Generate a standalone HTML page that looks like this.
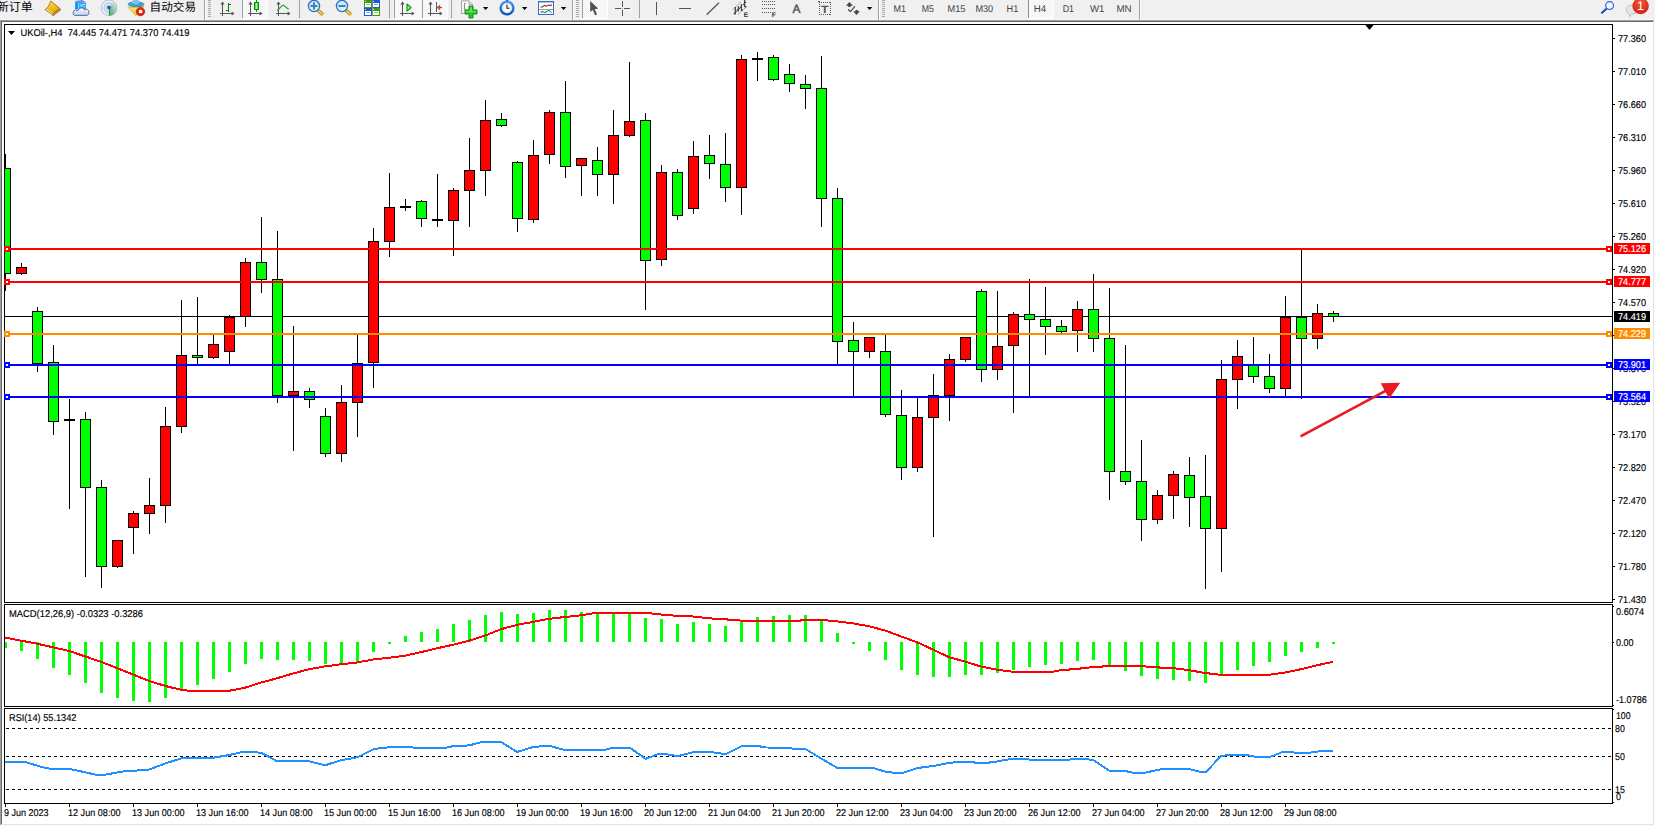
<!DOCTYPE html>
<html><head><meta charset="utf-8"><title>UKOil H4</title>
<style>
html,body{margin:0;padding:0;background:#fff;overflow:hidden}
svg{display:block;position:absolute;left:0;top:0}
svg text{font-family:"Liberation Sans","Noto Sans CJK SC",sans-serif;white-space:pre;text-rendering:geometricPrecision}
</style></head>
<body>
<svg width="1655" height="826" viewBox="0 0 1655 826" shape-rendering="crispEdges">
<rect x="0" y="0" width="1655" height="826" fill="#fff"/>
<rect x="0" y="0" width="1655" height="19" fill="#f0f0f0"/>
<rect x="0" y="19" width="1655" height="1" fill="#f6f6f6"/>
<rect x="0" y="20" width="1654" height="1" fill="#a0a0a0"/>
<rect x="1" y="21" width="1653" height="1" fill="#696969"/>
<rect x="0" y="21" width="1" height="805" fill="#a0a0a0"/>
<rect x="1" y="22" width="1" height="803" fill="#696969"/>
<rect x="1653" y="21" width="1" height="804" fill="#e3e3e3"/>
<rect x="1654" y="20" width="1" height="806" fill="#fafafa"/>
<rect x="1" y="824" width="1653" height="1" fill="#e3e3e3"/>
<rect x="0" y="825" width="1655" height="1" fill="#fafafa"/>
<rect x="4" y="24" width="1609" height="1" fill="#000"/>
<rect x="4" y="24" width="1" height="579" fill="#000"/>
<rect x="4" y="602" width="1609" height="1" fill="#000"/>
<rect x="1612" y="24" width="1" height="780" fill="#000"/>
<rect x="4" y="604" width="1609" height="1" fill="#000"/>
<rect x="4" y="604" width="1" height="103" fill="#000"/>
<rect x="4" y="706" width="1609" height="1" fill="#000"/>
<rect x="4" y="708" width="1609" height="1" fill="#000"/>
<rect x="4" y="708" width="1" height="96" fill="#000"/>
<rect x="4" y="803" width="1609" height="1" fill="#000"/>
<rect x="4" y="603" width="1" height="1" fill="#fff"/>
<rect x="1612" y="603" width="1" height="1" fill="#fff"/>
<rect x="4" y="707" width="1" height="1" fill="#fff"/>
<rect x="1612" y="707" width="1" height="1" fill="#fff"/>
<polygon points="1364.5,24 1374.5,24 1369.5,30" fill="#000" shape-rendering="geometricPrecision"/>
<rect x="1613" y="38" width="2" height="1" fill="#000"/>
<text x="1618" y="42" font-size="9.9" fill="#000" stroke="#000" stroke-width="0.15" textLength="28" lengthAdjust="spacingAndGlyphs">77.360</text>
<rect x="1613" y="71" width="2" height="1" fill="#000"/>
<text x="1618" y="75" font-size="9.9" fill="#000" stroke="#000" stroke-width="0.15" textLength="28" lengthAdjust="spacingAndGlyphs">77.010</text>
<rect x="1613" y="104" width="2" height="1" fill="#000"/>
<text x="1618" y="108" font-size="9.9" fill="#000" stroke="#000" stroke-width="0.15" textLength="28" lengthAdjust="spacingAndGlyphs">76.660</text>
<rect x="1613" y="137" width="2" height="1" fill="#000"/>
<text x="1618" y="141" font-size="9.9" fill="#000" stroke="#000" stroke-width="0.15" textLength="28" lengthAdjust="spacingAndGlyphs">76.310</text>
<rect x="1613" y="170" width="2" height="1" fill="#000"/>
<text x="1618" y="174" font-size="9.9" fill="#000" stroke="#000" stroke-width="0.15" textLength="28" lengthAdjust="spacingAndGlyphs">75.960</text>
<rect x="1613" y="203" width="2" height="1" fill="#000"/>
<text x="1618" y="207" font-size="9.9" fill="#000" stroke="#000" stroke-width="0.15" textLength="28" lengthAdjust="spacingAndGlyphs">75.610</text>
<rect x="1613" y="236" width="2" height="1" fill="#000"/>
<text x="1618" y="240" font-size="9.9" fill="#000" stroke="#000" stroke-width="0.15" textLength="28" lengthAdjust="spacingAndGlyphs">75.260</text>
<rect x="1613" y="269" width="2" height="1" fill="#000"/>
<text x="1618" y="273" font-size="9.9" fill="#000" stroke="#000" stroke-width="0.15" textLength="28" lengthAdjust="spacingAndGlyphs">74.920</text>
<rect x="1613" y="302" width="2" height="1" fill="#000"/>
<text x="1618" y="306" font-size="9.9" fill="#000" stroke="#000" stroke-width="0.15" textLength="28" lengthAdjust="spacingAndGlyphs">74.570</text>
<rect x="1613" y="335" width="2" height="1" fill="#000"/>
<text x="1618" y="339" font-size="9.9" fill="#000" stroke="#000" stroke-width="0.15" textLength="28" lengthAdjust="spacingAndGlyphs">74.220</text>
<rect x="1613" y="368" width="2" height="1" fill="#000"/>
<text x="1618" y="372" font-size="9.9" fill="#000" stroke="#000" stroke-width="0.15" textLength="28" lengthAdjust="spacingAndGlyphs">73.870</text>
<rect x="1613" y="401" width="2" height="1" fill="#000"/>
<text x="1618" y="405" font-size="9.9" fill="#000" stroke="#000" stroke-width="0.15" textLength="28" lengthAdjust="spacingAndGlyphs">73.520</text>
<rect x="1613" y="434" width="2" height="1" fill="#000"/>
<text x="1618" y="438" font-size="9.9" fill="#000" stroke="#000" stroke-width="0.15" textLength="28" lengthAdjust="spacingAndGlyphs">73.170</text>
<rect x="1613" y="467" width="2" height="1" fill="#000"/>
<text x="1618" y="471" font-size="9.9" fill="#000" stroke="#000" stroke-width="0.15" textLength="28" lengthAdjust="spacingAndGlyphs">72.820</text>
<rect x="1613" y="500" width="2" height="1" fill="#000"/>
<text x="1618" y="504" font-size="9.9" fill="#000" stroke="#000" stroke-width="0.15" textLength="28" lengthAdjust="spacingAndGlyphs">72.470</text>
<rect x="1613" y="533" width="2" height="1" fill="#000"/>
<text x="1618" y="537" font-size="9.9" fill="#000" stroke="#000" stroke-width="0.15" textLength="28" lengthAdjust="spacingAndGlyphs">72.120</text>
<rect x="1613" y="566" width="2" height="1" fill="#000"/>
<text x="1618" y="570" font-size="9.9" fill="#000" stroke="#000" stroke-width="0.15" textLength="28" lengthAdjust="spacingAndGlyphs">71.780</text>
<rect x="1613" y="599" width="2" height="1" fill="#000"/>
<text x="1618" y="603" font-size="9.9" fill="#000" stroke="#000" stroke-width="0.15" textLength="28" lengthAdjust="spacingAndGlyphs">71.430</text>
<rect x="5" y="316" width="1607" height="1" fill="#000"/>
<rect x="5" y="154" width="1" height="137" fill="#000"/>
<rect x="0" y="168" width="11" height="106" fill="#000"/>
<rect x="1" y="169" width="9" height="104" fill="#00ff00"/>
<rect x="21" y="263" width="1" height="12" fill="#000"/>
<rect x="16" y="267" width="11" height="7" fill="#000"/>
<rect x="17" y="268" width="9" height="5" fill="#ff0000"/>
<rect x="37" y="307" width="1" height="65" fill="#000"/>
<rect x="32" y="311" width="11" height="53" fill="#000"/>
<rect x="33" y="312" width="9" height="51" fill="#00ff00"/>
<rect x="53" y="345" width="1" height="90" fill="#000"/>
<rect x="48" y="362" width="11" height="60" fill="#000"/>
<rect x="49" y="363" width="9" height="58" fill="#00ff00"/>
<rect x="69" y="399" width="1" height="110" fill="#000"/>
<rect x="64" y="419" width="11" height="2" fill="#000"/>
<rect x="85" y="412" width="1" height="165" fill="#000"/>
<rect x="80" y="419" width="11" height="69" fill="#000"/>
<rect x="81" y="420" width="9" height="67" fill="#00ff00"/>
<rect x="101" y="480" width="1" height="108" fill="#000"/>
<rect x="96" y="487" width="11" height="80" fill="#000"/>
<rect x="97" y="488" width="9" height="78" fill="#00ff00"/>
<rect x="117" y="540" width="1" height="28" fill="#000"/>
<rect x="112" y="540" width="11" height="27" fill="#000"/>
<rect x="113" y="541" width="9" height="25" fill="#ff0000"/>
<rect x="133" y="511" width="1" height="43" fill="#000"/>
<rect x="128" y="513" width="11" height="15" fill="#000"/>
<rect x="129" y="514" width="9" height="13" fill="#ff0000"/>
<rect x="149" y="478" width="1" height="56" fill="#000"/>
<rect x="144" y="505" width="11" height="9" fill="#000"/>
<rect x="145" y="506" width="9" height="7" fill="#ff0000"/>
<rect x="165" y="407" width="1" height="116" fill="#000"/>
<rect x="160" y="426" width="11" height="80" fill="#000"/>
<rect x="161" y="427" width="9" height="78" fill="#ff0000"/>
<rect x="181" y="300" width="1" height="133" fill="#000"/>
<rect x="176" y="355" width="11" height="72" fill="#000"/>
<rect x="177" y="356" width="9" height="70" fill="#ff0000"/>
<rect x="197" y="297" width="1" height="67" fill="#000"/>
<rect x="192" y="355" width="11" height="3" fill="#000"/>
<rect x="193" y="356" width="9" height="1" fill="#00ff00"/>
<rect x="213" y="335" width="1" height="24" fill="#000"/>
<rect x="208" y="344" width="11" height="14" fill="#000"/>
<rect x="209" y="345" width="9" height="12" fill="#ff0000"/>
<rect x="229" y="315" width="1" height="49" fill="#000"/>
<rect x="224" y="317" width="11" height="35" fill="#000"/>
<rect x="225" y="318" width="9" height="33" fill="#ff0000"/>
<rect x="245" y="258" width="1" height="69" fill="#000"/>
<rect x="240" y="262" width="11" height="55" fill="#000"/>
<rect x="241" y="263" width="9" height="53" fill="#ff0000"/>
<rect x="261" y="217" width="1" height="76" fill="#000"/>
<rect x="256" y="262" width="11" height="18" fill="#000"/>
<rect x="257" y="263" width="9" height="16" fill="#00ff00"/>
<rect x="277" y="231" width="1" height="172" fill="#000"/>
<rect x="272" y="279" width="11" height="117" fill="#000"/>
<rect x="273" y="280" width="9" height="115" fill="#00ff00"/>
<rect x="293" y="326" width="1" height="125" fill="#000"/>
<rect x="288" y="391" width="11" height="5" fill="#000"/>
<rect x="289" y="392" width="9" height="3" fill="#ff0000"/>
<rect x="309" y="388" width="1" height="20" fill="#000"/>
<rect x="304" y="391" width="11" height="9" fill="#000"/>
<rect x="305" y="392" width="9" height="7" fill="#00ff00"/>
<rect x="325" y="408" width="1" height="49" fill="#000"/>
<rect x="320" y="416" width="11" height="38" fill="#000"/>
<rect x="321" y="417" width="9" height="36" fill="#00ff00"/>
<rect x="341" y="385" width="1" height="77" fill="#000"/>
<rect x="336" y="402" width="11" height="52" fill="#000"/>
<rect x="337" y="403" width="9" height="50" fill="#ff0000"/>
<rect x="357" y="335" width="1" height="102" fill="#000"/>
<rect x="352" y="363" width="11" height="40" fill="#000"/>
<rect x="353" y="364" width="9" height="38" fill="#ff0000"/>
<rect x="373" y="228" width="1" height="160" fill="#000"/>
<rect x="368" y="241" width="11" height="122" fill="#000"/>
<rect x="369" y="242" width="9" height="120" fill="#ff0000"/>
<rect x="389" y="173" width="1" height="84" fill="#000"/>
<rect x="384" y="207" width="11" height="35" fill="#000"/>
<rect x="385" y="208" width="9" height="33" fill="#ff0000"/>
<rect x="405" y="199" width="1" height="12" fill="#000"/>
<rect x="400" y="206" width="11" height="2" fill="#000"/>
<rect x="421" y="200" width="1" height="27" fill="#000"/>
<rect x="416" y="201" width="11" height="18" fill="#000"/>
<rect x="417" y="202" width="9" height="16" fill="#00ff00"/>
<rect x="437" y="174" width="1" height="53" fill="#000"/>
<rect x="432" y="219" width="11" height="2" fill="#000"/>
<rect x="453" y="188" width="1" height="68" fill="#000"/>
<rect x="448" y="190" width="11" height="31" fill="#000"/>
<rect x="449" y="191" width="9" height="29" fill="#ff0000"/>
<rect x="469" y="138" width="1" height="89" fill="#000"/>
<rect x="464" y="170" width="11" height="21" fill="#000"/>
<rect x="465" y="171" width="9" height="19" fill="#ff0000"/>
<rect x="485" y="100" width="1" height="96" fill="#000"/>
<rect x="480" y="120" width="11" height="51" fill="#000"/>
<rect x="481" y="121" width="9" height="49" fill="#ff0000"/>
<rect x="501" y="113" width="1" height="14" fill="#000"/>
<rect x="496" y="119" width="11" height="7" fill="#000"/>
<rect x="497" y="120" width="9" height="5" fill="#00ff00"/>
<rect x="517" y="161" width="1" height="71" fill="#000"/>
<rect x="512" y="162" width="11" height="57" fill="#000"/>
<rect x="513" y="163" width="9" height="55" fill="#00ff00"/>
<rect x="533" y="140" width="1" height="83" fill="#000"/>
<rect x="528" y="155" width="11" height="65" fill="#000"/>
<rect x="529" y="156" width="9" height="63" fill="#ff0000"/>
<rect x="549" y="110" width="1" height="54" fill="#000"/>
<rect x="544" y="112" width="11" height="43" fill="#000"/>
<rect x="545" y="113" width="9" height="41" fill="#ff0000"/>
<rect x="565" y="81" width="1" height="97" fill="#000"/>
<rect x="560" y="112" width="11" height="55" fill="#000"/>
<rect x="561" y="113" width="9" height="53" fill="#00ff00"/>
<rect x="581" y="158" width="1" height="38" fill="#000"/>
<rect x="576" y="158" width="11" height="8" fill="#000"/>
<rect x="577" y="159" width="9" height="6" fill="#ff0000"/>
<rect x="597" y="147" width="1" height="49" fill="#000"/>
<rect x="592" y="160" width="11" height="15" fill="#000"/>
<rect x="593" y="161" width="9" height="13" fill="#00ff00"/>
<rect x="613" y="110" width="1" height="94" fill="#000"/>
<rect x="608" y="135" width="11" height="40" fill="#000"/>
<rect x="609" y="136" width="9" height="38" fill="#ff0000"/>
<rect x="629" y="62" width="1" height="75" fill="#000"/>
<rect x="624" y="121" width="11" height="15" fill="#000"/>
<rect x="625" y="122" width="9" height="13" fill="#ff0000"/>
<rect x="645" y="113" width="1" height="197" fill="#000"/>
<rect x="640" y="120" width="11" height="141" fill="#000"/>
<rect x="641" y="121" width="9" height="139" fill="#00ff00"/>
<rect x="661" y="165" width="1" height="101" fill="#000"/>
<rect x="656" y="172" width="11" height="88" fill="#000"/>
<rect x="657" y="173" width="9" height="86" fill="#ff0000"/>
<rect x="677" y="169" width="1" height="51" fill="#000"/>
<rect x="672" y="172" width="11" height="44" fill="#000"/>
<rect x="673" y="173" width="9" height="42" fill="#00ff00"/>
<rect x="693" y="141" width="1" height="73" fill="#000"/>
<rect x="688" y="156" width="11" height="53" fill="#000"/>
<rect x="689" y="157" width="9" height="51" fill="#ff0000"/>
<rect x="709" y="135" width="1" height="44" fill="#000"/>
<rect x="704" y="155" width="11" height="9" fill="#000"/>
<rect x="705" y="156" width="9" height="7" fill="#00ff00"/>
<rect x="725" y="133" width="1" height="69" fill="#000"/>
<rect x="720" y="164" width="11" height="24" fill="#000"/>
<rect x="721" y="165" width="9" height="22" fill="#00ff00"/>
<rect x="741" y="55" width="1" height="160" fill="#000"/>
<rect x="736" y="59" width="11" height="129" fill="#000"/>
<rect x="737" y="60" width="9" height="127" fill="#ff0000"/>
<rect x="757" y="52" width="1" height="29" fill="#000"/>
<rect x="752" y="58" width="11" height="2" fill="#000"/>
<rect x="773" y="55" width="1" height="26" fill="#000"/>
<rect x="768" y="57" width="11" height="23" fill="#000"/>
<rect x="769" y="58" width="9" height="21" fill="#00ff00"/>
<rect x="789" y="64" width="1" height="28" fill="#000"/>
<rect x="784" y="74" width="11" height="10" fill="#000"/>
<rect x="785" y="75" width="9" height="8" fill="#00ff00"/>
<rect x="805" y="75" width="1" height="34" fill="#000"/>
<rect x="800" y="84" width="11" height="5" fill="#000"/>
<rect x="801" y="85" width="9" height="3" fill="#00ff00"/>
<rect x="821" y="56" width="1" height="171" fill="#000"/>
<rect x="816" y="88" width="11" height="111" fill="#000"/>
<rect x="817" y="89" width="9" height="109" fill="#00ff00"/>
<rect x="837" y="188" width="1" height="177" fill="#000"/>
<rect x="832" y="198" width="11" height="144" fill="#000"/>
<rect x="833" y="199" width="9" height="142" fill="#00ff00"/>
<rect x="853" y="322" width="1" height="75" fill="#000"/>
<rect x="848" y="340" width="11" height="12" fill="#000"/>
<rect x="849" y="341" width="9" height="10" fill="#00ff00"/>
<rect x="869" y="337" width="1" height="21" fill="#000"/>
<rect x="864" y="337" width="11" height="15" fill="#000"/>
<rect x="865" y="338" width="9" height="13" fill="#ff0000"/>
<rect x="885" y="335" width="1" height="82" fill="#000"/>
<rect x="880" y="351" width="11" height="64" fill="#000"/>
<rect x="881" y="352" width="9" height="62" fill="#00ff00"/>
<rect x="901" y="390" width="1" height="90" fill="#000"/>
<rect x="896" y="415" width="11" height="53" fill="#000"/>
<rect x="897" y="416" width="9" height="51" fill="#00ff00"/>
<rect x="917" y="398" width="1" height="74" fill="#000"/>
<rect x="912" y="417" width="11" height="51" fill="#000"/>
<rect x="913" y="418" width="9" height="49" fill="#ff0000"/>
<rect x="933" y="374" width="1" height="163" fill="#000"/>
<rect x="928" y="395" width="11" height="23" fill="#000"/>
<rect x="929" y="396" width="9" height="21" fill="#ff0000"/>
<rect x="949" y="354" width="1" height="67" fill="#000"/>
<rect x="944" y="359" width="11" height="37" fill="#000"/>
<rect x="945" y="360" width="9" height="35" fill="#ff0000"/>
<rect x="965" y="337" width="1" height="25" fill="#000"/>
<rect x="960" y="337" width="11" height="23" fill="#000"/>
<rect x="961" y="338" width="9" height="21" fill="#ff0000"/>
<rect x="981" y="289" width="1" height="93" fill="#000"/>
<rect x="976" y="291" width="11" height="79" fill="#000"/>
<rect x="977" y="292" width="9" height="77" fill="#00ff00"/>
<rect x="997" y="291" width="1" height="89" fill="#000"/>
<rect x="992" y="346" width="11" height="24" fill="#000"/>
<rect x="993" y="347" width="9" height="22" fill="#ff0000"/>
<rect x="1013" y="312" width="1" height="101" fill="#000"/>
<rect x="1008" y="314" width="11" height="32" fill="#000"/>
<rect x="1009" y="315" width="9" height="30" fill="#ff0000"/>
<rect x="1029" y="279" width="1" height="118" fill="#000"/>
<rect x="1024" y="314" width="11" height="6" fill="#000"/>
<rect x="1025" y="315" width="9" height="4" fill="#00ff00"/>
<rect x="1045" y="287" width="1" height="68" fill="#000"/>
<rect x="1040" y="319" width="11" height="8" fill="#000"/>
<rect x="1041" y="320" width="9" height="6" fill="#00ff00"/>
<rect x="1061" y="320" width="1" height="13" fill="#000"/>
<rect x="1056" y="326" width="11" height="6" fill="#000"/>
<rect x="1057" y="327" width="9" height="4" fill="#00ff00"/>
<rect x="1077" y="301" width="1" height="51" fill="#000"/>
<rect x="1072" y="309" width="11" height="22" fill="#000"/>
<rect x="1073" y="310" width="9" height="20" fill="#ff0000"/>
<rect x="1093" y="274" width="1" height="78" fill="#000"/>
<rect x="1088" y="309" width="11" height="30" fill="#000"/>
<rect x="1089" y="310" width="9" height="28" fill="#00ff00"/>
<rect x="1109" y="288" width="1" height="212" fill="#000"/>
<rect x="1104" y="338" width="11" height="134" fill="#000"/>
<rect x="1105" y="339" width="9" height="132" fill="#00ff00"/>
<rect x="1125" y="345" width="1" height="140" fill="#000"/>
<rect x="1120" y="471" width="11" height="11" fill="#000"/>
<rect x="1121" y="472" width="9" height="9" fill="#00ff00"/>
<rect x="1141" y="440" width="1" height="101" fill="#000"/>
<rect x="1136" y="481" width="11" height="39" fill="#000"/>
<rect x="1137" y="482" width="9" height="37" fill="#00ff00"/>
<rect x="1157" y="490" width="1" height="34" fill="#000"/>
<rect x="1152" y="495" width="11" height="25" fill="#000"/>
<rect x="1153" y="496" width="9" height="23" fill="#ff0000"/>
<rect x="1173" y="471" width="1" height="48" fill="#000"/>
<rect x="1168" y="474" width="11" height="22" fill="#000"/>
<rect x="1169" y="475" width="9" height="20" fill="#ff0000"/>
<rect x="1189" y="457" width="1" height="70" fill="#000"/>
<rect x="1184" y="475" width="11" height="23" fill="#000"/>
<rect x="1185" y="476" width="9" height="21" fill="#00ff00"/>
<rect x="1205" y="455" width="1" height="134" fill="#000"/>
<rect x="1200" y="496" width="11" height="33" fill="#000"/>
<rect x="1201" y="497" width="9" height="31" fill="#00ff00"/>
<rect x="1221" y="360" width="1" height="212" fill="#000"/>
<rect x="1216" y="379" width="11" height="150" fill="#000"/>
<rect x="1217" y="380" width="9" height="148" fill="#ff0000"/>
<rect x="1237" y="340" width="1" height="69" fill="#000"/>
<rect x="1232" y="356" width="11" height="24" fill="#000"/>
<rect x="1233" y="357" width="9" height="22" fill="#ff0000"/>
<rect x="1253" y="337" width="1" height="46" fill="#000"/>
<rect x="1248" y="364" width="11" height="13" fill="#000"/>
<rect x="1249" y="365" width="9" height="11" fill="#00ff00"/>
<rect x="1269" y="354" width="1" height="39" fill="#000"/>
<rect x="1264" y="376" width="11" height="13" fill="#000"/>
<rect x="1265" y="377" width="9" height="11" fill="#00ff00"/>
<rect x="1285" y="296" width="1" height="101" fill="#000"/>
<rect x="1280" y="317" width="11" height="72" fill="#000"/>
<rect x="1281" y="318" width="9" height="70" fill="#ff0000"/>
<rect x="1301" y="249" width="1" height="150" fill="#000"/>
<rect x="1296" y="317" width="11" height="22" fill="#000"/>
<rect x="1297" y="318" width="9" height="20" fill="#00ff00"/>
<rect x="1317" y="304" width="1" height="45" fill="#000"/>
<rect x="1312" y="313" width="11" height="26" fill="#000"/>
<rect x="1313" y="314" width="9" height="24" fill="#ff0000"/>
<rect x="1333" y="311" width="1" height="11" fill="#000"/>
<rect x="1328" y="313" width="11" height="4" fill="#000"/>
<rect x="1329" y="314" width="9" height="2" fill="#00ff00"/>
<rect x="2" y="25" width="2" height="577" fill="#fff"/>
<rect x="0" y="25" width="1" height="577" fill="#a0a0a0"/>
<rect x="1" y="25" width="1" height="577" fill="#696969"/>
<rect x="4" y="24" width="1" height="579" fill="#000"/>
<rect x="5" y="248" width="1607" height="2" fill="#ff0000"/>
<rect x="4" y="246" width="6" height="6" fill="#ff0000"/>
<rect x="6" y="248" width="2" height="2" fill="#fff"/>
<rect x="1606" y="246" width="6" height="6" fill="#ff0000"/>
<rect x="1608" y="248" width="2" height="2" fill="#fff"/>
<rect x="1614" y="243" width="36" height="11" fill="#ff0000"/>
<text x="1618" y="252" font-size="9.9" fill="#fff" stroke="#fff" stroke-width="0.15" textLength="28" lengthAdjust="spacingAndGlyphs">75.126</text>
<rect x="5" y="281" width="1607" height="2" fill="#ff0000"/>
<rect x="4" y="279" width="6" height="6" fill="#ff0000"/>
<rect x="6" y="281" width="2" height="2" fill="#fff"/>
<rect x="1606" y="279" width="6" height="6" fill="#ff0000"/>
<rect x="1608" y="281" width="2" height="2" fill="#fff"/>
<rect x="1614" y="276" width="36" height="11" fill="#ff0000"/>
<text x="1618" y="285" font-size="9.9" fill="#fff" stroke="#fff" stroke-width="0.15" textLength="28" lengthAdjust="spacingAndGlyphs">74.777</text>
<rect x="5" y="333" width="1607" height="2" fill="#ff8c00"/>
<rect x="4" y="331" width="6" height="6" fill="#ff8c00"/>
<rect x="6" y="333" width="2" height="2" fill="#fff"/>
<rect x="1606" y="331" width="6" height="6" fill="#ff8c00"/>
<rect x="1608" y="333" width="2" height="2" fill="#fff"/>
<rect x="1614" y="328" width="36" height="11" fill="#ff8c00"/>
<text x="1618" y="337" font-size="9.9" fill="#fff" stroke="#fff" stroke-width="0.15" textLength="28" lengthAdjust="spacingAndGlyphs">74.229</text>
<rect x="5" y="364" width="1607" height="2" fill="#0000ff"/>
<rect x="4" y="362" width="6" height="6" fill="#0000ff"/>
<rect x="6" y="364" width="2" height="2" fill="#fff"/>
<rect x="1606" y="362" width="6" height="6" fill="#0000ff"/>
<rect x="1608" y="364" width="2" height="2" fill="#fff"/>
<rect x="1614" y="359" width="36" height="11" fill="#0000ff"/>
<text x="1618" y="368" font-size="9.9" fill="#fff" stroke="#fff" stroke-width="0.15" textLength="28" lengthAdjust="spacingAndGlyphs">73.901</text>
<rect x="5" y="396" width="1607" height="2" fill="#0000ff"/>
<rect x="4" y="394" width="6" height="6" fill="#0000ff"/>
<rect x="6" y="396" width="2" height="2" fill="#fff"/>
<rect x="1606" y="394" width="6" height="6" fill="#0000ff"/>
<rect x="1608" y="396" width="2" height="2" fill="#fff"/>
<rect x="1614" y="391" width="36" height="11" fill="#0000ff"/>
<text x="1618" y="400" font-size="9.9" fill="#fff" stroke="#fff" stroke-width="0.15" textLength="28" lengthAdjust="spacingAndGlyphs">73.564</text>
<rect x="1614" y="311" width="36" height="11" fill="#000"/>
<text x="1618" y="320" font-size="9.9" fill="#fff" stroke="#fff" stroke-width="0.15" textLength="28" lengthAdjust="spacingAndGlyphs">74.419</text>
<g shape-rendering="geometricPrecision"><line x1="1300.6" y1="436.4" x2="1386" y2="390.6" stroke="#ea1a22" stroke-width="2.7"/><polygon points="1380.7,383.2 1400.2,382.8 1389.2,398.7" fill="#ea1a22"/></g>
<polygon points="8,31 15,31 11.5,35" fill="#000" shape-rendering="geometricPrecision"/>
<text x="20.5" y="36" font-size="9.9" fill="#000" stroke="#000" stroke-width="0.15" textLength="169" lengthAdjust="spacingAndGlyphs" xml:space="preserve">UKOil-,H4  74.445 74.471 74.370 74.419</text>
<rect x="4" y="642" width="3" height="6" fill="#00ff00"/>
<rect x="20" y="642" width="3" height="9" fill="#00ff00"/>
<rect x="36" y="642" width="3" height="17" fill="#00ff00"/>
<rect x="52" y="642" width="3" height="26" fill="#00ff00"/>
<rect x="68" y="642" width="3" height="33" fill="#00ff00"/>
<rect x="84" y="642" width="3" height="41" fill="#00ff00"/>
<rect x="100" y="642" width="3" height="51" fill="#00ff00"/>
<rect x="116" y="642" width="3" height="56" fill="#00ff00"/>
<rect x="132" y="642" width="3" height="59" fill="#00ff00"/>
<rect x="148" y="642" width="3" height="60" fill="#00ff00"/>
<rect x="164" y="642" width="3" height="56" fill="#00ff00"/>
<rect x="180" y="642" width="3" height="49" fill="#00ff00"/>
<rect x="196" y="642" width="3" height="43" fill="#00ff00"/>
<rect x="212" y="642" width="3" height="37" fill="#00ff00"/>
<rect x="228" y="642" width="3" height="30" fill="#00ff00"/>
<rect x="244" y="642" width="3" height="22" fill="#00ff00"/>
<rect x="260" y="642" width="3" height="17" fill="#00ff00"/>
<rect x="276" y="642" width="3" height="18" fill="#00ff00"/>
<rect x="292" y="642" width="3" height="18" fill="#00ff00"/>
<rect x="308" y="642" width="3" height="19" fill="#00ff00"/>
<rect x="324" y="642" width="3" height="22" fill="#00ff00"/>
<rect x="340" y="642" width="3" height="22" fill="#00ff00"/>
<rect x="356" y="642" width="3" height="20" fill="#00ff00"/>
<rect x="372" y="642" width="3" height="10" fill="#00ff00"/>
<rect x="388" y="642" width="3" height="2" fill="#00ff00"/>
<rect x="404" y="636" width="3" height="6" fill="#00ff00"/>
<rect x="420" y="632" width="3" height="10" fill="#00ff00"/>
<rect x="436" y="629" width="3" height="13" fill="#00ff00"/>
<rect x="452" y="624" width="3" height="18" fill="#00ff00"/>
<rect x="468" y="620" width="3" height="22" fill="#00ff00"/>
<rect x="484" y="615" width="3" height="27" fill="#00ff00"/>
<rect x="500" y="612" width="3" height="30" fill="#00ff00"/>
<rect x="516" y="614" width="3" height="28" fill="#00ff00"/>
<rect x="532" y="613" width="3" height="29" fill="#00ff00"/>
<rect x="548" y="610" width="3" height="32" fill="#00ff00"/>
<rect x="564" y="610" width="3" height="32" fill="#00ff00"/>
<rect x="580" y="612" width="3" height="30" fill="#00ff00"/>
<rect x="596" y="613" width="3" height="29" fill="#00ff00"/>
<rect x="612" y="613" width="3" height="29" fill="#00ff00"/>
<rect x="628" y="613" width="3" height="29" fill="#00ff00"/>
<rect x="644" y="618" width="3" height="24" fill="#00ff00"/>
<rect x="660" y="619" width="3" height="23" fill="#00ff00"/>
<rect x="676" y="624" width="3" height="18" fill="#00ff00"/>
<rect x="692" y="622" width="3" height="20" fill="#00ff00"/>
<rect x="708" y="624" width="3" height="18" fill="#00ff00"/>
<rect x="724" y="626" width="3" height="16" fill="#00ff00"/>
<rect x="740" y="620" width="3" height="22" fill="#00ff00"/>
<rect x="756" y="617" width="3" height="25" fill="#00ff00"/>
<rect x="772" y="616" width="3" height="26" fill="#00ff00"/>
<rect x="788" y="615" width="3" height="27" fill="#00ff00"/>
<rect x="804" y="615" width="3" height="27" fill="#00ff00"/>
<rect x="820" y="620" width="3" height="22" fill="#00ff00"/>
<rect x="836" y="633" width="3" height="9" fill="#00ff00"/>
<rect x="852" y="642" width="3" height="2" fill="#00ff00"/>
<rect x="868" y="642" width="3" height="9" fill="#00ff00"/>
<rect x="884" y="642" width="3" height="18" fill="#00ff00"/>
<rect x="900" y="642" width="3" height="28" fill="#00ff00"/>
<rect x="916" y="642" width="3" height="33" fill="#00ff00"/>
<rect x="932" y="642" width="3" height="35" fill="#00ff00"/>
<rect x="948" y="642" width="3" height="35" fill="#00ff00"/>
<rect x="964" y="642" width="3" height="33" fill="#00ff00"/>
<rect x="980" y="642" width="3" height="33" fill="#00ff00"/>
<rect x="996" y="642" width="3" height="31" fill="#00ff00"/>
<rect x="1012" y="642" width="3" height="28" fill="#00ff00"/>
<rect x="1028" y="642" width="3" height="25" fill="#00ff00"/>
<rect x="1044" y="642" width="3" height="23" fill="#00ff00"/>
<rect x="1060" y="642" width="3" height="22" fill="#00ff00"/>
<rect x="1076" y="642" width="3" height="19" fill="#00ff00"/>
<rect x="1092" y="642" width="3" height="18" fill="#00ff00"/>
<rect x="1108" y="642" width="3" height="24" fill="#00ff00"/>
<rect x="1124" y="642" width="3" height="29" fill="#00ff00"/>
<rect x="1140" y="642" width="3" height="34" fill="#00ff00"/>
<rect x="1156" y="642" width="3" height="37" fill="#00ff00"/>
<rect x="1172" y="642" width="3" height="38" fill="#00ff00"/>
<rect x="1188" y="642" width="3" height="39" fill="#00ff00"/>
<rect x="1204" y="642" width="3" height="41" fill="#00ff00"/>
<rect x="1220" y="642" width="3" height="34" fill="#00ff00"/>
<rect x="1236" y="642" width="3" height="28" fill="#00ff00"/>
<rect x="1252" y="642" width="3" height="24" fill="#00ff00"/>
<rect x="1268" y="642" width="3" height="20" fill="#00ff00"/>
<rect x="1284" y="642" width="3" height="14" fill="#00ff00"/>
<rect x="1300" y="642" width="3" height="10" fill="#00ff00"/>
<rect x="1316" y="642" width="3" height="6" fill="#00ff00"/>
<rect x="1332" y="642" width="3" height="2" fill="#00ff00"/>
<rect x="2" y="605" width="2" height="101" fill="#fff"/>
<rect x="4" y="604" width="1" height="103" fill="#000"/>
<polyline points="5,637.6 37,643.7 69,650.9 101,661.8 133,674.5 149,680.9 165,685.9 181,689.8 190,690.8 229,690.8 245,687.7 261,682.6 277,678.3 293,673.5 309,669.2 325,666.4 341,664.3 357,662.5 373,659.5 389,657.7 405,655.7 421,652.1 437,648.3 453,644.7 469,640.7 485,635.6 501,629.2 517,624.9 533,621.9 549,618.8 565,617 581,615.3 597,612.7 644,612.7 661,614.5 677,615.8 693,616.5 709,618.3 725,619.3 741,620.6 800,620.6 805,619.6 821,619.8 837,621.4 853,623.4 869,626.2 885,630.5 901,636.4 917,642.2 933,649.6 949,657.2 965,661.5 981,666.6 997,669.7 1013,671.7 1051.7,672 1061,670.2 1077,668.9 1093,667.1 1109,666.1 1140.7,666.1 1157,667.4 1173,668.1 1189,670.2 1205,673 1221,674.8 1268.6,674.8 1285,672.5 1301,669.2 1317,665.3 1333,661.8" fill="none" stroke="#ff0000" stroke-width="2" stroke-linejoin="round"/>
<text x="9" y="617" font-size="9.9" fill="#000" stroke="#000" stroke-width="0.15" textLength="134" lengthAdjust="spacingAndGlyphs">MACD(12,26,9) -0.0323 -0.3286</text>
<rect x="1613" y="606" width="1" height="1" fill="#000"/>
<text x="1616" y="615" font-size="9.9" fill="#000" stroke="#000" stroke-width="0.15" textLength="28" lengthAdjust="spacingAndGlyphs">0.6074</text>
<rect x="1613" y="642" width="1" height="1" fill="#000"/>
<text x="1616" y="646" font-size="9.9" fill="#000" stroke="#000" stroke-width="0.15" textLength="17.5" lengthAdjust="spacingAndGlyphs">0.00</text>
<rect x="1613" y="705" width="1" height="1" fill="#000"/>
<text x="1616" y="703" font-size="9.9" fill="#000" stroke="#000" stroke-width="0.15" textLength="30.8" lengthAdjust="spacingAndGlyphs">-1.0786</text>
<line x1="6" y1="728.5" x2="1612" y2="728.5" stroke="#000" stroke-width="1" stroke-dasharray="3 3"/>
<line x1="6" y1="756.5" x2="1612" y2="756.5" stroke="#000" stroke-width="1" stroke-dasharray="3 3"/>
<line x1="6" y1="789.5" x2="1612" y2="789.5" stroke="#000" stroke-width="1" stroke-dasharray="3 3"/>
<polyline points="5,761.7 24,761.7 43,767.3 50,768.8 69,768.8 97,774.9 104,774.9 122,771.6 149,769.6 165,763.5 183,757.9 214,757.6 229,755.1 243,751.8 254,751.8 262,753.1 276,760.7 308,760.9 325,765.3 341,760.2 357,757.4 374,749 392,747 404,747 421,748 444.5,748 453,746.2 469,745.4 482.6,741.9 501,741.9 517,752 533,747 549,745.7 564,749.8 588,750 601,750.5 615,747.5 629.6,747.5 645.6,758.9 659,753.8 664,753.8 677.6,756.1 693.7,752 709.7,752 725.7,754.1 741.7,746.2 757.7,746 766,747.5 789.8,747.7 793,749 805,748.8 821,758.4 837,767.8 872.5,767.8 885,771.6 895,772.9 903,772.9 917,768.1 933,766 949,763 960,761.5 973,761.5 975,762.7 988,762.7 997,761.5 1011,758.9 1027.6,758.9 1031,760.2 1068,760.2 1072,758.9 1084.8,758.9 1093.7,760.2 1109.7,770.9 1125.7,771.1 1134,772.9 1144.5,772.9 1157.7,769.8 1166,768.8 1187.7,768.8 1201.7,772.1 1205.8,772.1 1221,756.1 1231.8,754.6 1244.5,754.6 1254.7,756.6 1271,756.6 1282.6,752 1291.5,751.8 1295,752.8 1309,752.8 1319.5,751.3 1333.5,751" fill="none" stroke="#1e90ff" stroke-width="2" stroke-linejoin="round"/>
<text x="9" y="721" font-size="9.9" fill="#000" stroke="#000" stroke-width="0.15" textLength="67.4" lengthAdjust="spacingAndGlyphs">RSI(14) 55.1342</text>
<rect x="1613" y="709" width="1" height="1" fill="#000"/>
<rect x="1613" y="802" width="1" height="1" fill="#000"/>
<text x="1616" y="719" font-size="9.9" fill="#000" stroke="#000" stroke-width="0.15" textLength="14.6" lengthAdjust="spacingAndGlyphs">100</text>
<text x="1615" y="732" font-size="9.9" fill="#000" stroke="#000" stroke-width="0.15" textLength="9.8" lengthAdjust="spacingAndGlyphs">80</text>
<text x="1615" y="760" font-size="9.9" fill="#000" stroke="#000" stroke-width="0.15" textLength="9.8" lengthAdjust="spacingAndGlyphs">50</text>
<text x="1615" y="793" font-size="9.9" fill="#000" stroke="#000" stroke-width="0.15" textLength="9.8" lengthAdjust="spacingAndGlyphs">15</text>
<text x="1616" y="800" font-size="9.9" fill="#000" stroke="#000" stroke-width="0.15" textLength="5" lengthAdjust="spacingAndGlyphs">0</text>
<rect x="5" y="804" width="1" height="3" fill="#000"/>
<text x="4" y="816" font-size="9.9" fill="#000" stroke="#000" stroke-width="0.15" textLength="44.5" lengthAdjust="spacingAndGlyphs">9 Jun 2023</text>
<rect x="69" y="804" width="1" height="3" fill="#000"/>
<text x="68" y="816" font-size="9.9" fill="#000" stroke="#000" stroke-width="0.15" textLength="52.5" lengthAdjust="spacingAndGlyphs">12 Jun 08:00</text>
<rect x="133" y="804" width="1" height="3" fill="#000"/>
<text x="132" y="816" font-size="9.9" fill="#000" stroke="#000" stroke-width="0.15" textLength="52.5" lengthAdjust="spacingAndGlyphs">13 Jun 00:00</text>
<rect x="197" y="804" width="1" height="3" fill="#000"/>
<text x="196" y="816" font-size="9.9" fill="#000" stroke="#000" stroke-width="0.15" textLength="52.5" lengthAdjust="spacingAndGlyphs">13 Jun 16:00</text>
<rect x="261" y="804" width="1" height="3" fill="#000"/>
<text x="260" y="816" font-size="9.9" fill="#000" stroke="#000" stroke-width="0.15" textLength="52.5" lengthAdjust="spacingAndGlyphs">14 Jun 08:00</text>
<rect x="325" y="804" width="1" height="3" fill="#000"/>
<text x="324" y="816" font-size="9.9" fill="#000" stroke="#000" stroke-width="0.15" textLength="52.5" lengthAdjust="spacingAndGlyphs">15 Jun 00:00</text>
<rect x="389" y="804" width="1" height="3" fill="#000"/>
<text x="388" y="816" font-size="9.9" fill="#000" stroke="#000" stroke-width="0.15" textLength="52.5" lengthAdjust="spacingAndGlyphs">15 Jun 16:00</text>
<rect x="453" y="804" width="1" height="3" fill="#000"/>
<text x="452" y="816" font-size="9.9" fill="#000" stroke="#000" stroke-width="0.15" textLength="52.5" lengthAdjust="spacingAndGlyphs">16 Jun 08:00</text>
<rect x="517" y="804" width="1" height="3" fill="#000"/>
<text x="516" y="816" font-size="9.9" fill="#000" stroke="#000" stroke-width="0.15" textLength="52.5" lengthAdjust="spacingAndGlyphs">19 Jun 00:00</text>
<rect x="581" y="804" width="1" height="3" fill="#000"/>
<text x="580" y="816" font-size="9.9" fill="#000" stroke="#000" stroke-width="0.15" textLength="52.5" lengthAdjust="spacingAndGlyphs">19 Jun 16:00</text>
<rect x="645" y="804" width="1" height="3" fill="#000"/>
<text x="644" y="816" font-size="9.9" fill="#000" stroke="#000" stroke-width="0.15" textLength="52.5" lengthAdjust="spacingAndGlyphs">20 Jun 12:00</text>
<rect x="709" y="804" width="1" height="3" fill="#000"/>
<text x="708" y="816" font-size="9.9" fill="#000" stroke="#000" stroke-width="0.15" textLength="52.5" lengthAdjust="spacingAndGlyphs">21 Jun 04:00</text>
<rect x="773" y="804" width="1" height="3" fill="#000"/>
<text x="772" y="816" font-size="9.9" fill="#000" stroke="#000" stroke-width="0.15" textLength="52.5" lengthAdjust="spacingAndGlyphs">21 Jun 20:00</text>
<rect x="837" y="804" width="1" height="3" fill="#000"/>
<text x="836" y="816" font-size="9.9" fill="#000" stroke="#000" stroke-width="0.15" textLength="52.5" lengthAdjust="spacingAndGlyphs">22 Jun 12:00</text>
<rect x="901" y="804" width="1" height="3" fill="#000"/>
<text x="900" y="816" font-size="9.9" fill="#000" stroke="#000" stroke-width="0.15" textLength="52.5" lengthAdjust="spacingAndGlyphs">23 Jun 04:00</text>
<rect x="965" y="804" width="1" height="3" fill="#000"/>
<text x="964" y="816" font-size="9.9" fill="#000" stroke="#000" stroke-width="0.15" textLength="52.5" lengthAdjust="spacingAndGlyphs">23 Jun 20:00</text>
<rect x="1029" y="804" width="1" height="3" fill="#000"/>
<text x="1028" y="816" font-size="9.9" fill="#000" stroke="#000" stroke-width="0.15" textLength="52.5" lengthAdjust="spacingAndGlyphs">26 Jun 12:00</text>
<rect x="1093" y="804" width="1" height="3" fill="#000"/>
<text x="1092" y="816" font-size="9.9" fill="#000" stroke="#000" stroke-width="0.15" textLength="52.5" lengthAdjust="spacingAndGlyphs">27 Jun 04:00</text>
<rect x="1157" y="804" width="1" height="3" fill="#000"/>
<text x="1156" y="816" font-size="9.9" fill="#000" stroke="#000" stroke-width="0.15" textLength="52.5" lengthAdjust="spacingAndGlyphs">27 Jun 20:00</text>
<rect x="1221" y="804" width="1" height="3" fill="#000"/>
<text x="1220" y="816" font-size="9.9" fill="#000" stroke="#000" stroke-width="0.15" textLength="52.5" lengthAdjust="spacingAndGlyphs">28 Jun 12:00</text>
<rect x="1285" y="804" width="1" height="3" fill="#000"/>
<text x="1284" y="816" font-size="9.9" fill="#000" stroke="#000" stroke-width="0.15" textLength="52.5" lengthAdjust="spacingAndGlyphs">29 Jun 08:00</text>
<defs><pattern id="chk" width="2" height="2" patternUnits="userSpaceOnUse"><rect width="2" height="2" fill="#f0f0f0"/><rect width="1" height="1" fill="#fff"/><rect x="1" y="1" width="1" height="1" fill="#fff"/></pattern><linearGradient id="gold" x1="0" y1="0" x2="1" y2="1"><stop offset="0" stop-color="#f7d64a"/><stop offset="0.5" stop-color="#f0c020"/><stop offset="1" stop-color="#c88a10"/></linearGradient><linearGradient id="cloud" x1="0" y1="0" x2="0" y2="1"><stop offset="0" stop-color="#ffffff"/><stop offset="1" stop-color="#b8cce8"/></linearGradient><linearGradient id="lens" x1="0" y1="0" x2="0" y2="1"><stop offset="0" stop-color="#c4e4f8"/><stop offset="1" stop-color="#eaf6fd"/></linearGradient><linearGradient id="grn" x1="0" y1="0" x2="1" y2="0"><stop offset="0" stop-color="#30d050"/><stop offset="0.5" stop-color="#90ffa0"/><stop offset="1" stop-color="#30d050"/></linearGradient><radialGradient id="badge" cx="0.5" cy="0.3" r="0.8"><stop offset="0" stop-color="#ee5a38"/><stop offset="1" stop-color="#cc1808"/></radialGradient><linearGradient id="clk" x1="0" y1="0" x2="0" y2="1"><stop offset="0" stop-color="#4a9af0"/><stop offset="1" stop-color="#0a4cb0"/></linearGradient><linearGradient id="hat" x1="0" y1="0" x2="0" y2="1"><stop offset="0" stop-color="#8fd0f0"/><stop offset="1" stop-color="#3888c8"/></linearGradient></defs>
<g shape-rendering="crispEdges">
<text x="-3.2" y="11" font-size="12" fill="#000">新订单</text>
<text x="149.6" y="11" font-size="11.6" fill="#000">自动交易</text>
<defs><linearGradient id="tagf" x1="0.2" y1="0" x2="0.6" y2="1"><stop offset="0" stop-color="#fff08a"/><stop offset="0.35" stop-color="#f6cc2c"/><stop offset="0.75" stop-color="#e8ac10"/><stop offset="1" stop-color="#d89a18"/></linearGradient><linearGradient id="sweep" x1="0" y1="1" x2="0.6" y2="0"><stop offset="0" stop-color="#2aa82a"/><stop offset="0.5" stop-color="#8cc88c"/><stop offset="1" stop-color="#d0e4d0" stop-opacity="0.6"/></linearGradient><linearGradient id="ybody" x1="0" y1="0" x2="0.5" y2="1"><stop offset="0" stop-color="#fff088"/><stop offset="1" stop-color="#f0c020"/></linearGradient><radialGradient id="redb" cx="0.5" cy="0.4" r="0.7"><stop offset="0" stop-color="#f84020"/><stop offset="1" stop-color="#c81000"/></radialGradient></defs>
<g shape-rendering="geometricPrecision"><path d="M59.6,8.3 L60.9,9.7 L52.9,15.9 L52.2,14.4 Z" fill="#9a6410" stroke="#9a6410" stroke-width="0.6" stroke-linejoin="round"/><line x1="60" y1="9.3" x2="52.8" y2="14.9" stroke="#efe2a8" stroke-width="0.5"/><path d="M50.8,1.1 L59.6,8.3 L52.4,14.4 L45.1,9.8 Q49.4,6.6 50.8,1.1 Z" fill="url(#tagf)" stroke="#a86c10" stroke-width="0.9" stroke-linejoin="round"/><path d="M45.9,9.9 L52.3,13.9 L53.4,13 L47,9 Z" fill="#f8e498" opacity="0.7"/></g>
<g shape-rendering="geometricPrecision"><polygon points="75.1,1 82.4,0 86,2.6 78.5,3.3" fill="#6a8ee0"/><polygon points="75.1,1 78.5,3.3 78.5,9.5 75.1,9" fill="#00a0f8"/><polygon points="78.5,3.3 86,2.6 86,9.5 78.5,9.5" fill="#2aa4f4"/><line x1="78.5" y1="3.3" x2="78.5" y2="9" stroke="#bfe4ff" stroke-width="0.6"/><line x1="80.2" y1="5.3" x2="85" y2="4.3" stroke="#f0f8ff" stroke-width="0.9"/><line x1="80.2" y1="6.8" x2="85.6" y2="6.6" stroke="#a8d8fc" stroke-width="0.7"/><path d="M75.2,15.4 C73.6,15.4 72.9,14 73.1,12.8 C73.3,11 74.6,9.8 76,10 C76.6,10 77.4,10.4 77.8,10.9 C78.4,9 79.8,7.9 81.5,7.9 C83.2,7.9 84.4,9 84.8,10.2 C85.3,9.4 86,9.1 86.6,9.2 C88.2,9.4 89,10.8 88.9,12.6 C88.9,14.2 88,15.4 86.6,15.4 Z" fill="url(#cloud)" stroke="#3e5e9e" stroke-width="0.9"/></g>
<g shape-rendering="geometricPrecision"><path d="M109.2,7.8 L109.6,15.8 A8,8 0 0 0 113.6,1.2 Z" fill="url(#sweep)" opacity="0.9"/><circle cx="109" cy="7.8" r="7.8" fill="none" stroke="#8aa6e6" stroke-width="0.9" opacity="0.75"/><circle cx="109" cy="7.8" r="5" fill="none" stroke="#7e9ce2" stroke-width="0.9" opacity="0.75"/><circle cx="109" cy="7.8" r="2.9" fill="none" stroke="#88a4e4" stroke-width="0.8" opacity="0.8"/><line x1="109.5" y1="8" x2="109.5" y2="15.7" stroke="#22a822" stroke-width="1.2"/><circle cx="109" cy="7.6" r="1.8" fill="#2050c8"/></g>
<g shape-rendering="geometricPrecision"><polygon points="128.1,7.4 144,6.4 136.1,15.7" fill="url(#ybody)" stroke="#d0a018" stroke-width="0.7" stroke-linejoin="round"/><ellipse cx="136" cy="4.3" rx="7.9" ry="2.5" fill="#48a4dc" stroke="#2478a8" stroke-width="0.7"/><ellipse cx="135.7" cy="2.2" rx="3.6" ry="2.6" fill="#7cc4ee"/><path d="M131.4,4.2 Q135.7,6 140.2,4" fill="none" stroke="#2a80b4" stroke-width="0.6"/><circle cx="140.5" cy="11.6" r="4.2" fill="url(#redb)" stroke="#a81000" stroke-width="0.6"/><rect x="139" y="10.1" width="3.2" height="3" fill="#fff"/></g>
<rect x="204" y="0" width="1" height="20" fill="#a0a0a0"/>
<rect x="205" y="0" width="1" height="20" fill="#fff"/>
<rect x="208" y="0" width="3" height="1" fill="#a8a8a8"/>
<rect x="208" y="2" width="3" height="1" fill="#a8a8a8"/>
<rect x="208" y="4" width="3" height="1" fill="#a8a8a8"/>
<rect x="208" y="6" width="3" height="1" fill="#a8a8a8"/>
<rect x="208" y="8" width="3" height="1" fill="#a8a8a8"/>
<rect x="208" y="10" width="3" height="1" fill="#a8a8a8"/>
<rect x="208" y="12" width="3" height="1" fill="#a8a8a8"/>
<rect x="208" y="14" width="3" height="1" fill="#a8a8a8"/>
<rect x="208" y="16" width="3" height="1" fill="#a8a8a8"/>
<rect x="222" y="3" width="1" height="13" fill="#555"/>
<rect x="220" y="13" width="14" height="1" fill="#555"/>
<g shape-rendering="geometricPrecision"><polygon points="222.5,1.6 220.4,4.6 224.6,4.6" fill="#555"/><polygon points="234.6,13.5 231.6,11.4 231.6,15.6" fill="#555"/></g>
<rect x="228" y="3" width="1" height="9" fill="#008000"/>
<rect x="229" y="4" width="2" height="1" fill="#008000"/>
<rect x="226" y="10" width="2" height="1" fill="#008000"/>
<rect x="242" y="0" width="1" height="18" fill="#a0a0a0"/>
<rect x="243" y="0" width="24" height="18" fill="url(#chk)"/>
<rect x="243" y="18" width="25" height="1" fill="#fff"/>
<rect x="267" y="0" width="1" height="19" fill="#fff"/>
<rect x="250" y="3" width="1" height="13" fill="#555"/>
<rect x="248" y="13" width="14" height="1" fill="#555"/>
<g shape-rendering="geometricPrecision"><polygon points="250.5,1.6 248.4,4.6 252.6,4.6" fill="#555"/><polygon points="262.6,13.5 259.6,11.4 259.6,15.6" fill="#555"/></g>
<rect x="256" y="0" width="1" height="12" fill="#00a000"/>
<rect x="254" y="2" width="5" height="8" fill="#009000"/>
<rect x="255" y="3" width="3" height="6" fill="url(#grn)"/>
<rect x="278" y="3" width="1" height="13" fill="#555"/>
<rect x="276" y="13" width="14" height="1" fill="#555"/>
<g shape-rendering="geometricPrecision"><polygon points="278.5,1.6 276.4,4.6 280.6,4.6" fill="#555"/><polygon points="290.6,13.5 287.6,11.4 287.6,15.6" fill="#555"/></g>
<g shape-rendering="geometricPrecision"><path d="M277.2,10.6 C279.5,9.5 281,5.4 283.2,5.4 C285.2,5.4 286.4,8.6 288.8,9.2" fill="none" stroke="#2ea02e" stroke-width="1.3"/></g>
<rect x="299" y="0" width="1" height="18" fill="#a0a0a0"/>
<g shape-rendering="geometricPrecision"><line x1="318" y1="10.2" x2="323" y2="14.8" stroke="#b88a10" stroke-width="3.4" stroke-linecap="butt"/><line x1="318" y1="10.2" x2="323" y2="14.8" stroke="#f0cc40" stroke-width="1.8"/><circle cx="314" cy="6" r="5.6" fill="url(#lens)" stroke="#2a70c4" stroke-width="1.3"/><rect x="310.4" y="5" width="7.2" height="2" fill="#3a86b4"/><rect x="313" y="2.4" width="2" height="7.2" fill="#3a86b4"/></g>
<g shape-rendering="geometricPrecision"><line x1="346" y1="10.2" x2="351" y2="14.8" stroke="#b88a10" stroke-width="3.4" stroke-linecap="butt"/><line x1="346" y1="10.2" x2="351" y2="14.8" stroke="#f0cc40" stroke-width="1.8"/><circle cx="342" cy="6" r="5.6" fill="url(#lens)" stroke="#2a70c4" stroke-width="1.3"/><rect x="338.4" y="5" width="7.2" height="2" fill="#3a86b4"/></g>
<rect x="364" y="0" width="8" height="8" fill="#3a9a14"/>
<rect x="372" y="0" width="8" height="8" fill="#2454cc"/>
<rect x="364" y="8" width="8" height="8" fill="#2454cc"/>
<rect x="372" y="8" width="8" height="8" fill="#3a9a14"/>
<rect x="365" y="3" width="6" height="4" fill="#fff"/>
<rect x="366" y="4" width="4" height="1" fill="#9ad07a"/>
<rect x="365" y="1" width="1" height="1" fill="#e0e8ff"/>
<rect x="373" y="3" width="6" height="4" fill="#fff"/>
<rect x="374" y="4" width="4" height="1" fill="#8aa4ec"/>
<rect x="373" y="1" width="1" height="1" fill="#e0e8ff"/>
<rect x="365" y="11" width="6" height="4" fill="#fff"/>
<rect x="366" y="12" width="4" height="1" fill="#8aa4ec"/>
<rect x="365" y="9" width="1" height="1" fill="#e0e8ff"/>
<rect x="373" y="11" width="6" height="4" fill="#fff"/>
<rect x="374" y="12" width="4" height="1" fill="#9ad07a"/>
<rect x="373" y="9" width="1" height="1" fill="#e0e8ff"/>
<rect x="371.5" y="0" width="1" height="16" fill="#fff" opacity="0.25"/>
<rect x="389" y="0" width="1" height="18" fill="#a0a0a0"/>
<rect x="394" y="0" width="1" height="18" fill="#a0a0a0"/>
<rect x="395" y="0" width="25" height="18" fill="url(#chk)"/>
<rect x="395" y="18" width="26" height="1" fill="#fff"/>
<rect x="420" y="0" width="1" height="19" fill="#fff"/>
<rect x="402" y="3" width="1" height="13" fill="#555"/>
<rect x="400" y="13" width="14" height="1" fill="#555"/>
<g shape-rendering="geometricPrecision"><polygon points="402.5,1.6 400.4,4.6 404.6,4.6" fill="#555"/><polygon points="414.6,13.5 411.6,11.4 411.6,15.6" fill="#555"/></g>
<g shape-rendering="geometricPrecision"><polygon points="407,4 411.2,7.6 407,11.2" fill="#80f090" stroke="#10a010" stroke-width="1.2" stroke-linejoin="round"/></g>
<rect x="422" y="0" width="1" height="18" fill="#a0a0a0"/>
<rect x="423" y="0" width="24" height="18" fill="url(#chk)"/>
<rect x="423" y="18" width="25" height="1" fill="#fff"/>
<rect x="447" y="0" width="1" height="19" fill="#fff"/>
<rect x="430" y="3" width="1" height="13" fill="#555"/>
<rect x="428" y="13" width="14" height="1" fill="#555"/>
<g shape-rendering="geometricPrecision"><polygon points="430.5,1.6 428.4,4.6 432.6,4.6" fill="#555"/><polygon points="442.6,13.5 439.6,11.4 439.6,15.6" fill="#555"/></g>
<rect x="436" y="2" width="1" height="10" fill="#1a6ea4"/>
<g shape-rendering="geometricPrecision"><line x1="437.4" y1="7.5" x2="441.8" y2="7.5" stroke="#b83800" stroke-width="1.2"/><polygon points="437,7.5 440,5 439.6,7.5 440,10" fill="#f06000" stroke="#a03000" stroke-width="0.5"/></g>
<rect x="451" y="0" width="1" height="18" fill="#a0a0a0"/>
<g shape-rendering="geometricPrecision"><path d="M461.5,0.8 h7.4 l3.6,3.6 v9 h-11 z" fill="#fcfcfc" stroke="#909090" stroke-width="0.8"/><path d="M468.9,0.8 v3.6 h3.6" fill="#e0e0e0" stroke="#909090" stroke-width="0.6"/><path d="M465.8,3.4 h-1.4 v6 h1.4" fill="none" stroke="#606060" stroke-width="0.8"/><path d="M469,6 h4 v4 h4 v4 h-4 v4 h-4 v-4 h-4 v-4 h4 z" fill="#22cc22" stroke="#108010" stroke-width="0.9"/><path d="M470,7 h2 v4 h4 v1.2 h-10 v-1.2 h4 z" fill="#70f070" opacity="0.7"/></g>
<polygon points="482.9,7 488.3,7 485.6,9.9" fill="#000" shape-rendering="geometricPrecision"/>
<g shape-rendering="geometricPrecision"><circle cx="507" cy="8" r="7.6" fill="url(#clk)"/><circle cx="507" cy="8" r="5" fill="#f8f8f8" stroke="#c0d4f0" stroke-width="0.5"/><path d="M507,4.4 v3.8 h2.6" fill="none" stroke="#222" stroke-width="1.1"/><rect x="506" y="0" width="2.2" height="1" fill="#2060c0"/></g>
<polygon points="521.9,7 527.3,7 524.6,9.9" fill="#000" shape-rendering="geometricPrecision"/>
<rect x="538" y="1" width="16" height="14" fill="#3868c8"/>
<rect x="539" y="2" width="14" height="1.4" fill="#a8c8f4"/>
<rect x="539" y="3.4" width="14" height="10.6" fill="#fff"/>
<rect x="539" y="8.6" width="14" height="1" fill="#7aa0dc"/>
<g shape-rendering="geometricPrecision"><polyline points="540.4,7 542.6,7 544.4,5.4 546.4,6.2 548.6,5 550.4,5.6 552,4.8" fill="none" stroke="#a02818" stroke-width="1.1"/><polyline points="540.6,12.4 542.6,11.4 544.6,12.6 546.8,11.6 548.8,10.4 551.4,12.6" fill="none" stroke="#20902c" stroke-width="1.1"/></g>
<polygon points="560.9,7 566.3,7 563.6,9.9" fill="#000" shape-rendering="geometricPrecision"/>
<rect x="572" y="0" width="1" height="20" fill="#a0a0a0"/>
<rect x="573" y="0" width="1" height="20" fill="#fff"/>
<rect x="576" y="0" width="3" height="1" fill="#a8a8a8"/>
<rect x="576" y="2" width="3" height="1" fill="#a8a8a8"/>
<rect x="576" y="4" width="3" height="1" fill="#a8a8a8"/>
<rect x="576" y="6" width="3" height="1" fill="#a8a8a8"/>
<rect x="576" y="8" width="3" height="1" fill="#a8a8a8"/>
<rect x="576" y="10" width="3" height="1" fill="#a8a8a8"/>
<rect x="576" y="12" width="3" height="1" fill="#a8a8a8"/>
<rect x="576" y="14" width="3" height="1" fill="#a8a8a8"/>
<rect x="576" y="16" width="3" height="1" fill="#a8a8a8"/>
<rect x="582" y="0" width="1" height="18" fill="#a0a0a0"/>
<rect x="583" y="0" width="24" height="18" fill="url(#chk)"/>
<rect x="583" y="18" width="25" height="1" fill="#fff"/>
<rect x="607" y="0" width="1" height="19" fill="#fff"/>
<g shape-rendering="geometricPrecision"><polygon points="590.2,1.1 590.2,12 592.7,9.9 595.1,15.3 597.1,14.2 594.6,9.2 598.2,8.4" fill="#505050"/></g>
<rect x="615" y="8" width="6" height="1" fill="#555"/>
<rect x="624" y="8" width="6" height="1" fill="#555"/>
<rect x="622" y="1" width="1" height="6" fill="#555"/>
<rect x="622" y="10" width="1" height="6" fill="#555"/>
<rect x="622" y="8" width="1" height="1" fill="#999"/>
<rect x="639" y="0" width="1" height="18" fill="#a0a0a0"/>
<rect x="656" y="2" width="1" height="13" fill="#555"/>
<rect x="679" y="8" width="12" height="1" fill="#555"/>
<g shape-rendering="geometricPrecision"><line x1="706.6" y1="14.8" x2="719" y2="2.7" stroke="#555" stroke-width="1.2"/><line x1="732.8" y1="9.4" x2="740.8" y2="2.2" stroke="#777" stroke-width="0.9" stroke-dasharray="1 0.6"/><line x1="738.2" y1="14.5" x2="746.9" y2="6.3" stroke="#777" stroke-width="0.9" stroke-dasharray="1 0.6"/><path d="M735.3,7 V14.5 M733.6,13.5 H735.3 M735.3,11.6 H736.8 M738.4,6.3 V11.6 M736.8,10 H738.4 M738.4,8.4 H739.9 M741.4,4.1 V11 M739.9,7.4 H741.4 M741.4,10.2 H742.9 M744.6,0 V7.3 M743,4.4 H744.6 M744.6,2.4 H746.2 M744.6,6.6 H746.4" fill="none" stroke="#444" stroke-width="1.3"/></g>
<text x="743.8" y="16.6" font-size="6.6" font-weight="bold" fill="#333">E</text>
<rect x="762" y="1" width="1" height="1" fill="#555"/>
<rect x="764" y="1" width="1" height="1" fill="#555"/>
<rect x="766" y="1" width="1" height="1" fill="#555"/>
<rect x="768" y="1" width="1" height="1" fill="#555"/>
<rect x="770" y="1" width="1" height="1" fill="#555"/>
<rect x="772" y="1" width="1" height="1" fill="#555"/>
<rect x="774" y="1" width="1" height="1" fill="#555"/>
<rect x="762" y="4" width="1" height="1" fill="#555"/>
<rect x="764" y="4" width="1" height="1" fill="#555"/>
<rect x="766" y="4" width="1" height="1" fill="#555"/>
<rect x="768" y="4" width="1" height="1" fill="#555"/>
<rect x="770" y="4" width="1" height="1" fill="#555"/>
<rect x="772" y="4" width="1" height="1" fill="#555"/>
<rect x="774" y="4" width="1" height="1" fill="#555"/>
<rect x="762" y="8" width="1" height="1" fill="#555"/>
<rect x="764" y="8" width="1" height="1" fill="#555"/>
<rect x="766" y="8" width="1" height="1" fill="#555"/>
<rect x="768" y="8" width="1" height="1" fill="#555"/>
<rect x="770" y="8" width="1" height="1" fill="#555"/>
<rect x="772" y="8" width="1" height="1" fill="#555"/>
<rect x="774" y="8" width="1" height="1" fill="#555"/>
<rect x="762" y="12" width="1" height="1" fill="#555"/>
<rect x="764" y="12" width="1" height="1" fill="#555"/>
<rect x="766" y="12" width="1" height="1" fill="#555"/>
<rect x="768" y="12" width="1" height="1" fill="#555"/>
<rect x="770" y="12" width="1" height="1" fill="#555"/>
<text x="771.8" y="16.6" font-size="6.6" font-weight="bold" fill="#333">F</text>
<text x="792.6" y="12.7" font-size="11.9" fill="#555" stroke="#555" stroke-width="0.45">A</text>
<rect x="819" y="2" width="1" height="1" fill="#555"/>
<rect x="819" y="14" width="1" height="1" fill="#555"/>
<rect x="821" y="2" width="1" height="1" fill="#555"/>
<rect x="821" y="14" width="1" height="1" fill="#555"/>
<rect x="823" y="2" width="1" height="1" fill="#555"/>
<rect x="823" y="14" width="1" height="1" fill="#555"/>
<rect x="825" y="2" width="1" height="1" fill="#555"/>
<rect x="825" y="14" width="1" height="1" fill="#555"/>
<rect x="827" y="2" width="1" height="1" fill="#555"/>
<rect x="827" y="14" width="1" height="1" fill="#555"/>
<rect x="829" y="2" width="1" height="1" fill="#555"/>
<rect x="829" y="14" width="1" height="1" fill="#555"/>
<rect x="819" y="2" width="1" height="1" fill="#555"/>
<rect x="830" y="2" width="1" height="1" fill="#555"/>
<rect x="819" y="4" width="1" height="1" fill="#555"/>
<rect x="830" y="4" width="1" height="1" fill="#555"/>
<rect x="819" y="6" width="1" height="1" fill="#555"/>
<rect x="830" y="6" width="1" height="1" fill="#555"/>
<rect x="819" y="8" width="1" height="1" fill="#555"/>
<rect x="830" y="8" width="1" height="1" fill="#555"/>
<rect x="819" y="10" width="1" height="1" fill="#555"/>
<rect x="830" y="10" width="1" height="1" fill="#555"/>
<rect x="819" y="12" width="1" height="1" fill="#555"/>
<rect x="830" y="12" width="1" height="1" fill="#555"/>
<rect x="819" y="14" width="1" height="1" fill="#555"/>
<rect x="830" y="14" width="1" height="1" fill="#555"/>
<rect x="818" y="1" width="2" height="1" fill="#555"/>
<text x="821" y="12.7" font-size="10.6" font-weight="bold" fill="#555" textLength="7.5" lengthAdjust="spacingAndGlyphs">T</text>
<g shape-rendering="geometricPrecision"><polygon points="849.4,1.9 853,5.7 850.7,5.7 850.7,6.9 848.2,6.9 848.2,5.7 845.9,5.7" fill="#4a4a4a"/><polyline points="848.1,9.3 850.4,11.6 854.9,6.3" fill="none" stroke="#4a4a4a" stroke-width="1.3"/><polygon points="856.5,15 860,11.3 857.9,11.3 857.9,10 855.5,10 855.5,11.3 853.1,11.3" fill="#4a4a4a"/></g>
<polygon points="866.9,7 872.3,7 869.6,9.9" fill="#000" shape-rendering="geometricPrecision"/>
<rect x="878" y="0" width="1" height="20" fill="#a0a0a0"/>
<rect x="879" y="0" width="1" height="20" fill="#fff"/>
<rect x="882" y="0" width="3" height="1" fill="#a8a8a8"/>
<rect x="882" y="2" width="3" height="1" fill="#a8a8a8"/>
<rect x="882" y="4" width="3" height="1" fill="#a8a8a8"/>
<rect x="882" y="6" width="3" height="1" fill="#a8a8a8"/>
<rect x="882" y="8" width="3" height="1" fill="#a8a8a8"/>
<rect x="882" y="10" width="3" height="1" fill="#a8a8a8"/>
<rect x="882" y="12" width="3" height="1" fill="#a8a8a8"/>
<rect x="882" y="14" width="3" height="1" fill="#a8a8a8"/>
<rect x="882" y="16" width="3" height="1" fill="#a8a8a8"/>
<rect x="1028" y="0" width="1" height="18" fill="#909090"/>
<rect x="1029" y="0" width="24" height="18" fill="url(#chk)"/>
<rect x="1029" y="18" width="25" height="1" fill="#fff"/>
<rect x="1053" y="0" width="1" height="19" fill="#fff"/>
<text x="893.4" y="12.1" font-size="9.8" fill="#444" textLength="12.6" lengthAdjust="spacingAndGlyphs">M1</text>
<text x="921.8" y="12.1" font-size="9.8" fill="#444" textLength="12.2" lengthAdjust="spacingAndGlyphs">M5</text>
<text x="947.5" y="12.1" font-size="9.8" fill="#444" textLength="17.9" lengthAdjust="spacingAndGlyphs">M15</text>
<text x="975.4" y="12.1" font-size="9.8" fill="#444" textLength="17.8" lengthAdjust="spacingAndGlyphs">M30</text>
<text x="1006.5" y="12.1" font-size="9.8" fill="#444" textLength="11.8" lengthAdjust="spacingAndGlyphs">H1</text>
<text x="1033.7" y="12.1" font-size="9.8" fill="#444" textLength="12.4" lengthAdjust="spacingAndGlyphs">H4</text>
<text x="1062.7" y="12.1" font-size="9.8" fill="#444" textLength="11.4" lengthAdjust="spacingAndGlyphs">D1</text>
<text x="1089.9" y="12.1" font-size="9.8" fill="#444" textLength="14.5" lengthAdjust="spacingAndGlyphs">W1</text>
<text x="1116.4" y="12.1" font-size="9.8" fill="#444" textLength="15.1" lengthAdjust="spacingAndGlyphs">MN</text>
<rect x="1139" y="0" width="1" height="20" fill="#a0a0a0"/>
<rect x="1140" y="0" width="1" height="20" fill="#fff"/>
<g shape-rendering="geometricPrecision"><line x1="1606.4" y1="8.8" x2="1602" y2="12.8" stroke="#1c50c8" stroke-width="2.2" stroke-linecap="round"/><circle cx="1609.6" cy="5.6" r="3.9" fill="#f4f6ff" stroke="#2860d8" stroke-width="1.2"/></g>
<g shape-rendering="geometricPrecision"><path d="M1626.2,9.6 a5.6,4.6 0 1 1 5,4.6 l-1.6,2.6 l-0.6,-3 a5,4.4 0 0 1 -2.8,-4.2 z" fill="#e4e6ea" stroke="#b8b8b8" stroke-width="0.8"/><circle cx="1640.6" cy="6" r="8.2" fill="url(#badge)"/></g>
<text x="1640.4" y="10.4" font-size="12.5" fill="#fff" text-anchor="middle">1</text>
</g>
</svg>
</body></html>
